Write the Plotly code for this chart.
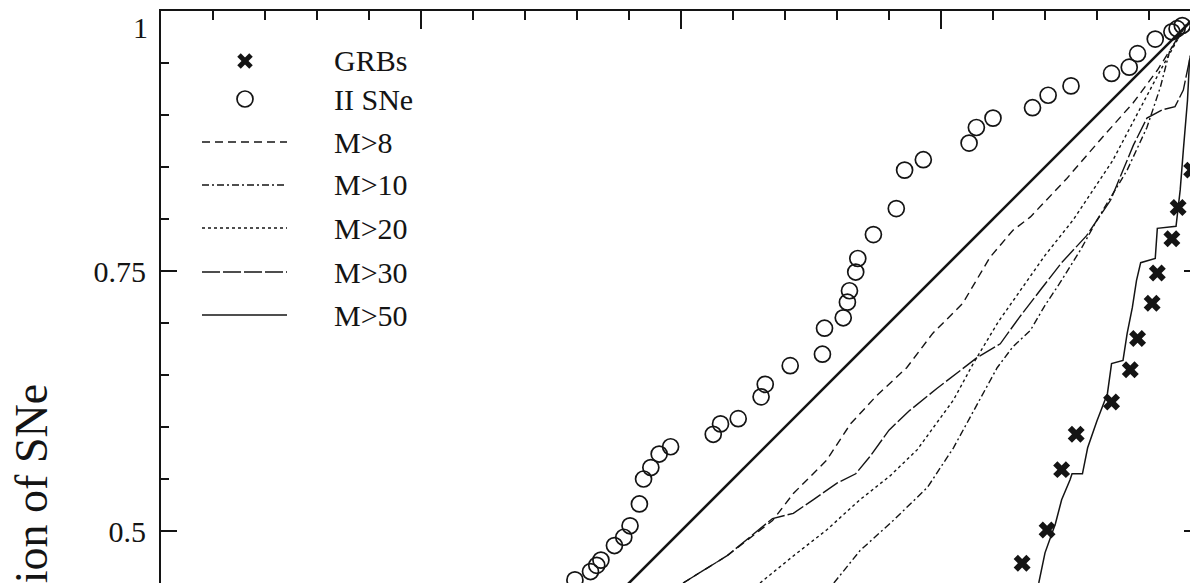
import plotly.graph_objects as go

# ---- data (fraction of light vs. cumulative fraction) ----
# Type II supernovae (cumulative points)
sn_x = [0.398, 0.413, 0.419, 0.423, 0.436, 0.445, 0.451, 0.460, 0.464, 0.471,
        0.479, 0.490, 0.531, 0.538, 0.555, 0.577, 0.581, 0.605, 0.636, 0.638,
        0.656, 0.660, 0.662, 0.668, 0.670, 0.685, 0.707, 0.715, 0.733, 0.777,
        0.784, 0.800, 0.838, 0.853, 0.875, 0.914, 0.931, 0.939, 0.956, 0.972,
        0.977, 0.982]
sn_y = [0.453, 0.461, 0.467, 0.472, 0.486, 0.494, 0.505, 0.526, 0.550, 0.561,
        0.574, 0.581, 0.593, 0.603, 0.608, 0.629, 0.641, 0.659, 0.670, 0.695,
        0.705, 0.720, 0.731, 0.749, 0.762, 0.785, 0.810, 0.847, 0.857, 0.873,
        0.888, 0.897, 0.907, 0.919, 0.928, 0.940, 0.946, 0.959, 0.973, 0.980,
        0.983, 0.986]

# Long GRBs (cumulative points)
grb_x = [0.828, 0.852, 0.866, 0.880, 0.914, 0.932, 0.939, 0.953, 0.958, 0.972,
         0.978, 0.991]
grb_y = [0.469, 0.501, 0.559, 0.593, 0.624, 0.655, 0.685, 0.719, 0.748, 0.781,
         0.811, 0.847]

# Model curves for different progenitor mass thresholds
m8_x = [0.502, 0.544, 0.588, 0.608, 0.640, 0.663, 0.688, 0.717, 0.742, 0.771,
        0.797, 0.819, 0.836, 0.871, 0.903, 0.935, 0.958, 0.970, 0.985, 1.0]
m8_y = [0.450, 0.476, 0.510, 0.536, 0.568, 0.603, 0.630, 0.657, 0.690, 0.719,
        0.763, 0.789, 0.802, 0.839, 0.876, 0.912, 0.943, 0.962, 0.984, 1.0]

m10_x = [0.647, 0.672, 0.704, 0.737, 0.762, 0.778, 0.794, 0.804, 0.819, 0.836,
         0.850, 0.864, 0.884, 0.900, 0.929, 0.948, 0.961, 0.970, 0.985, 1.0]
m10_y = [0.450, 0.481, 0.510, 0.542, 0.580, 0.609, 0.638, 0.657, 0.677, 0.693,
         0.717, 0.738, 0.770, 0.799, 0.847, 0.888, 0.927, 0.962, 0.986, 1.0]

m20_x = [0.576, 0.608, 0.640, 0.672, 0.701, 0.727, 0.762, 0.781, 0.805, 0.826,
         0.850, 0.877, 0.915, 0.944, 0.961, 0.985, 1.0]
m20_y = [0.450, 0.476, 0.501, 0.530, 0.553, 0.578, 0.626, 0.661, 0.701, 0.731,
         0.765, 0.799, 0.856, 0.911, 0.943, 0.986, 1.0]

m30_x = [0.502, 0.544, 0.588, 0.608, 0.627, 0.650, 0.668, 0.682, 0.700, 0.720,
         0.746, 0.765, 0.785, 0.807, 0.825, 0.845, 0.866, 0.890, 0.913, 0.935,
         0.948, 0.963, 0.975, 0.983, 0.989, 1.0]
m30_y = [0.450, 0.476, 0.512, 0.517, 0.530, 0.546, 0.555, 0.572, 0.597, 0.616,
         0.637, 0.652, 0.667, 0.680, 0.705, 0.731, 0.758, 0.784, 0.818, 0.871,
         0.897, 0.905, 0.908, 0.924, 0.953, 1.0]

m50_x = [0.844, 0.850, 0.860, 0.866, 0.874, 0.876, 0.886, 0.891, 0.900, 0.910,
         0.914, 0.925, 0.929, 0.934, 0.938, 0.942, 0.956, 0.958, 0.976, 0.980,
         0.983, 0.987, 0.989, 1.0]
m50_y = [0.450, 0.479, 0.507, 0.530, 0.549, 0.555, 0.555, 0.580, 0.606, 0.632,
         0.661, 0.664, 0.690, 0.715, 0.741, 0.758, 0.762, 0.791, 0.793, 0.828,
         0.866, 0.914, 0.953, 1.0]

# equal-fraction reference
ref_x = [0.0, 1.0]
ref_y = [0.0, 1.0]

y_ticks = [0.5, 0.75, 1.0]
y_ticktext = ["0.5", "0.75", ""]
x_ticks = [0.0, 0.25, 0.5, 0.75, 1.0]

legend_labels = ["GRBs", "II SNe", "M>8", "M>10", "M>20", "M>30", "M>50"]

INK = "#141414"
SERIF = "Liberation Serif, Times New Roman, serif"
W, H = 1190, 583
ML, MT = 161, 11

fig = go.Figure()

fig.add_trace(go.Scatter(x=ref_x, y=ref_y, mode="lines",
                         line=dict(color=INK, width=2.6), showlegend=False))
fig.add_trace(go.Scatter(x=m8_x, y=m8_y, mode="lines", name="M>8",
                         line=dict(color=INK, width=1.4, dash="8px,5px")))
fig.add_trace(go.Scatter(x=m10_x, y=m10_y, mode="lines", name="M>10",
                         line=dict(color=INK, width=1.4, dash="7px,3px,2px,3px")))
fig.add_trace(go.Scatter(x=m20_x, y=m20_y, mode="lines", name="M>20",
                         line=dict(color=INK, width=1.4, dash="3px,3px")))
fig.add_trace(go.Scatter(x=m30_x, y=m30_y, mode="lines", name="M>30",
                         line=dict(color=INK, width=1.4, dash="18px,3px")))
fig.add_trace(go.Scatter(x=m50_x, y=m50_y, mode="lines", name="M>50",
                         line=dict(color=INK, width=1.5)))
fig.add_trace(go.Scatter(x=sn_x, y=sn_y, mode="markers", name="II SNe",
                         marker=dict(symbol="circle-open", size=16, color=INK,
                                     line=dict(width=1.7, color=INK))))
fig.add_trace(go.Scatter(x=grb_x, y=grb_y, mode="markers", name="GRBs",
                         marker=dict(symbol="x", size=15, color=INK,
                                     line=dict(width=0))))

# right-hand major tick stubs
fig.add_trace(go.Scatter(x=[None], y=[None], yaxis="y2", showlegend=False))


def px_x(px):
    return (px - ML) / (W - ML)


def px_y(py):
    return (H - py) / (H - MT)


# hand-drawn key in the upper left
rows = [61, 99, 142, 185, 228, 272, 315]
dashes = [None, None, "8px,5px", "7px,3px,2px,3px", "3px,3px", "18px,3px", "solid"]
shapes = []
annotations = []
for label, row, dash in zip(legend_labels, rows, dashes):
    annotations.append(dict(x=px_x(332), y=px_y(row), xref="paper", yref="paper",
                            text=label, showarrow=False, xanchor="left",
                            yanchor="middle", font=dict(family=SERIF, size=30, color=INK)))
    if dash is not None:
        shapes.append(dict(type="line", xref="paper", yref="paper",
                           x0=px_x(202), x1=px_x(287), y0=px_y(row), y1=px_y(row),
                           line=dict(color=INK, width=1.4, dash=dash)))
# key symbol for the GRB crosses: two short thick strokes
for sx in (1, -1):
    shapes.append(dict(type="line", xref="paper", yref="paper",
                       xsizemode="pixel", ysizemode="pixel",
                       xanchor=px_x(245), yanchor=px_y(rows[0]),
                       x0=-6, x1=6, y0=-6 * sx, y1=6 * sx,
                       line=dict(color=INK, width=5)))
shapes.append(dict(type="circle", xref="paper", yref="paper",
                   xsizemode="pixel", ysizemode="pixel",
                   xanchor=px_x(245), yanchor=px_y(rows[1]),
                   x0=-8, x1=8, y0=-8, y1=8,
                   line=dict(color=INK, width=1.7)))

# top tick label of the y axis and the axis title
annotations.append(dict(x=px_x(150), y=px_y(28), xref="paper", yref="paper",
                        text="1", showarrow=False, xanchor="right", yanchor="middle",
                        font=dict(family=SERIF, size=30, color=INK)))
annotations.append(dict(x=px_x(32), y=px_y(530.7), xref="paper", yref="paper",
                        text="Fraction of SNe", textangle=-90, showarrow=False,
                        xanchor="center", yanchor="middle",
                        font=dict(family=SERIF, size=46, color=INK)))

fig.update_layout(
    width=W, height=H,
    margin=dict(l=ML, r=0, t=MT, b=0, pad=0),
    paper_bgcolor="white", plot_bgcolor="white",
    showlegend=False,
    shapes=shapes, annotations=annotations,
    xaxis=dict(range=[0, (W - ML) / 1040], side="top", showline=True,
               linecolor=INK, linewidth=2, ticks="inside", ticklen=18,
               tickwidth=1.6, tickcolor=INK, tickvals=x_ticks,
               showticklabels=False, showgrid=False, zeroline=False,
               minor=dict(dtick=0.05, tick0=0, ticks="inside", ticklen=9,
                          tickwidth=1.6, tickcolor=INK, showgrid=False)),
    yaxis=dict(range=[1 - (H - MT) / 1040, 1.0], showline=True,
               linecolor=INK, linewidth=2, ticks="inside", ticklen=16,
               tickwidth=1.6, tickcolor=INK, tickvals=y_ticks,
               ticktext=y_ticktext, ticklabelstandoff=7,
               tickfont=dict(family=SERIF, size=30, color=INK),
               showgrid=False, zeroline=False,
               minor=dict(dtick=0.05, tick0=0, ticks="inside", ticklen=8,
                          tickwidth=1.6, tickcolor=INK, showgrid=False)),
    yaxis2=dict(range=[1 - (H - MT) / 1040, 1.0], overlaying="y", side="right",
                showline=False, ticks="inside", ticklen=6, tickwidth=1.6,
                tickcolor=INK, tickvals=[0.5, 0.75], showticklabels=False,
                showgrid=False, zeroline=False),
)

fig.write_html("out.html")
